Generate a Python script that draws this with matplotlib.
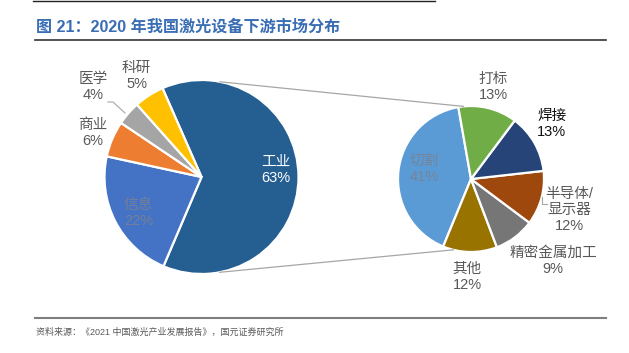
import numpy as np
import matplotlib as mpl
mpl.use('Agg')
import matplotlib.pyplot as plt

plt.rcParams['font.family'] = ['Liberation Sans', 'Noto Sans CJK SC']

W, H = 629, 353

# left pie: downstream market share of laser equipment, 2020
left_names = ['工业', '信息', '商业', '医学', '科研']
left_pct = [63, 22, 6, 4, 5]
left_colors = ['#255E91', '#4472C4', '#ED7D31', '#A5A5A5', '#FFC000']

# right pie: breakdown of the industrial share
right_names = ['切割', '其他', '精密金属加工', '半导体/\n显示器', '焊接', '打标']
right_pct = [41, 12, 9, 12, 13, 13]
right_colors = ['#5B9BD5', '#997300', '#767676', '#9E480E', '#264478', '#70AD47']

title = '图 21：2020 年我国激光设备下游市场分布'
source = '资料来源：《2021 中国激光产业发展报告》，国元证券研究所'

# layout (pixels, y measured from top)
def py(y):
    return H - y

LC, LR = (201.5, py(177)), 97
RC, RR = (471, py(179)), 73

fig = plt.figure(figsize=(W / 100, H / 100), dpi=100)
ax = fig.add_axes([0, 0, 1, 1])

lw, _ = ax.pie(left_pct, colors=left_colors, startangle=113.7, counterclock=False,
               center=LC, radius=LR,
               wedgeprops=dict(edgecolor='white', linewidth=1.6))
rw, _ = ax.pie(right_pct, colors=right_colors, startangle=100, counterclock=True,
               center=RC, radius=RR,
               wedgeprops=dict(edgecolor='white', linewidth=1.6))

def put_labels(wedges, names, pct, center, radius, dist, nudge, colors, size):
    for w, n, p, d, a, c in zip(wedges, names, pct, dist, nudge, colors):
        ang = np.radians((w.theta1 + w.theta2) / 2 + a)
        x = center[0] + d * radius * np.cos(ang)
        y = center[1] + d * radius * np.sin(ang)
        ax.text(x, y, '%s\n%d%%' % (n, p), ha='center', va='center',
                fontsize=size, color=c, linespacing=1.2)

put_labels(lw, left_names, left_pct, LC, LR,
           [0.77, 0.75, 1.21, 1.45, 1.24], [5, 2.5, 1, 1.5, 0],
           ['white', '#74809A', '#595959', '#595959', '#595959'], 10.5)
put_labels(rw, right_names, right_pct, RC, RR,
           [0.65, 1.34, 1.59, 1.41, 1.34, 1.3], [-6, -1.5, 8, -2.4, 4.4, 0],
           ['#74849A', '#595959', '#595959', '#595959', '#111111', '#595959'], 10.5)

# connector lines between the two pies
for la, ra in [(79, 96), (-79.3, 256)]:
    x0 = LC[0] + LR * np.cos(np.radians(la))
    y0 = LC[1] + LR * np.sin(np.radians(la))
    x1 = RC[0] + RR * np.cos(np.radians(ra))
    y1 = RC[1] + RR * np.sin(np.radians(ra))
    ax.plot([x0, x1], [y0, y1], color='#A6A6A6', lw=0.9)

# small leader lines
ax.plot([108, 113, 125], [py(102), py(102), py(113)], color='#A6A6A6', lw=0.8)
ax.plot([542, 542, 547], [py(197), py(204), py(204)], color='#A6A6A6', lw=0.8)

# page rules
ax.plot([33, 435], [py(1), py(1)], color='#222222', lw=1.0)
ax.plot([35, 606], [py(40), py(40)], color='#333333', lw=1.2)
ax.plot([35, 606], [py(318), py(318)], color='#7F7F7F', lw=1.5)

ax.text(36, py(27), title, fontsize=11.6, fontweight='bold', color='#3A6EB4',
        ha='left', va='center')
ax.text(36, py(332), source, fontsize=6.5, color='#595959', ha='left', va='center')

ax.set_xlim(0, W)
ax.set_ylim(0, H)
ax.set_aspect('equal')
ax.axis('off')

fig.savefig('out.png', dpi=100)
